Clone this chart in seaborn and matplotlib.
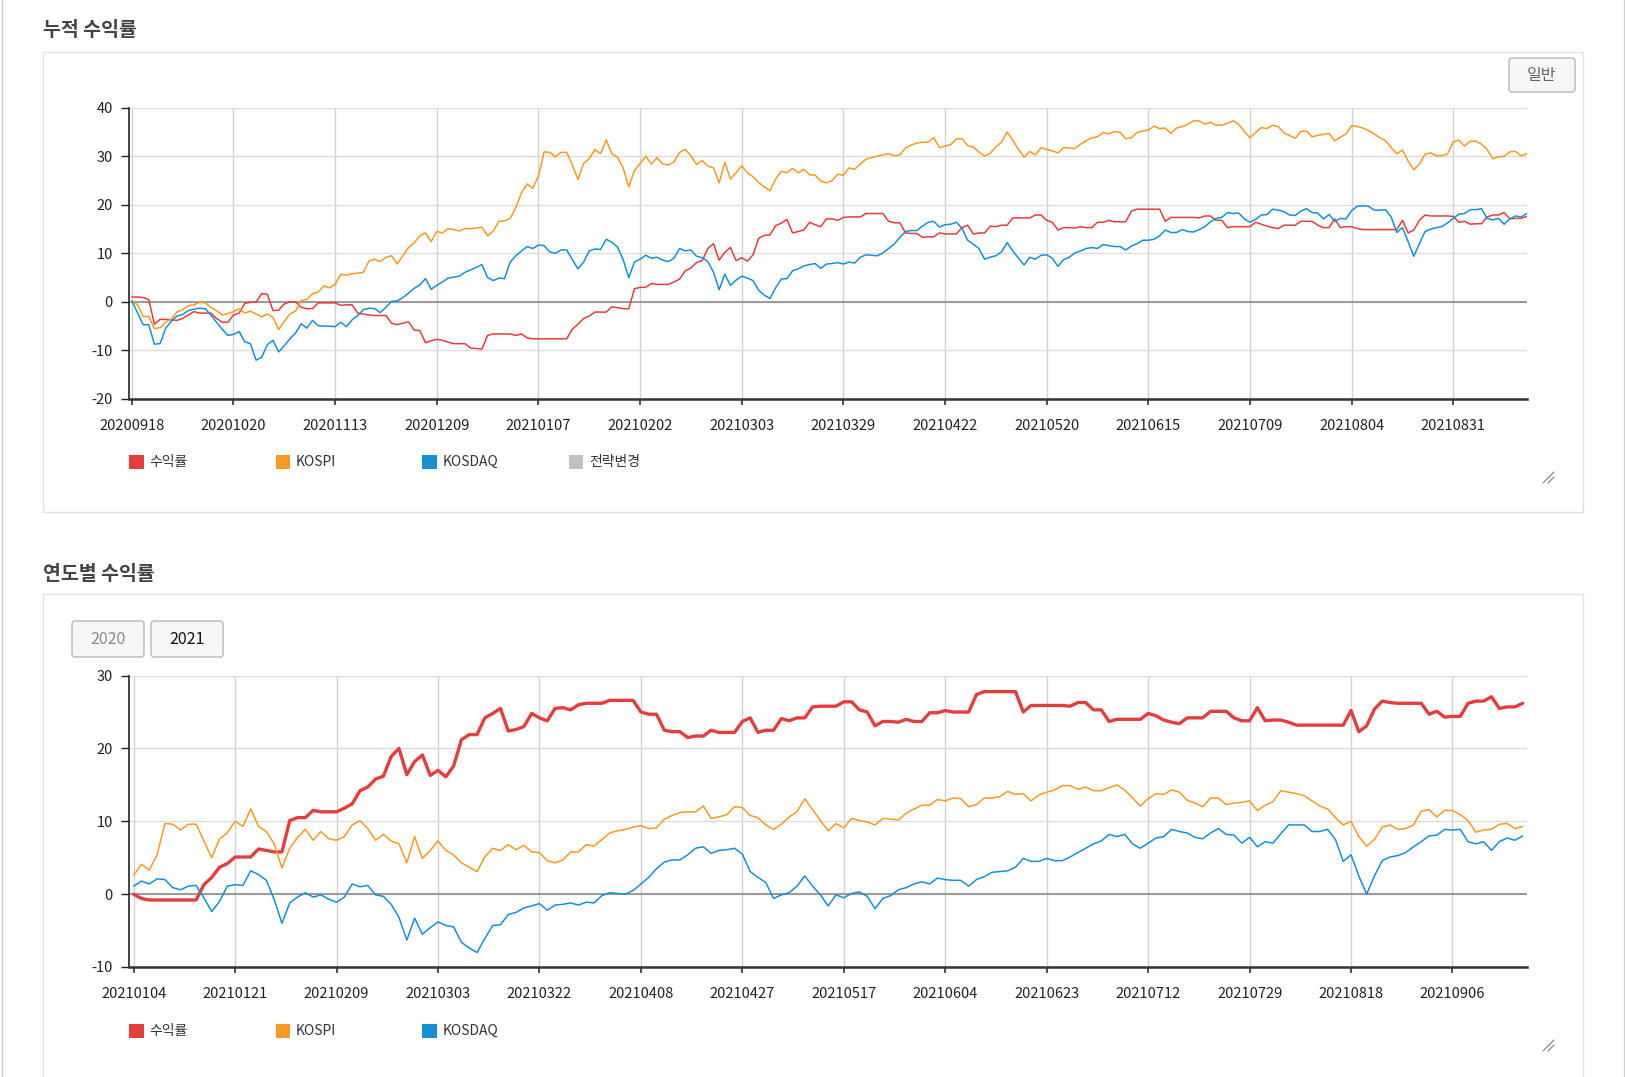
import numpy as np
import pandas as pd
import matplotlib
matplotlib.use("Agg")
import matplotlib.pyplot as plt
import seaborn as sns
from matplotlib.patches import Rectangle, FancyBboxPatch
from matplotlib.lines import Line2D
from matplotlib.transforms import IdentityTransform

# ---------------- data ----------------
series_names = ["수익률", "KOSPI", "KOSDAQ"]
legend1_names = ["수익률", "KOSPI", "KOSDAQ", "전략변경"]

# cumulative chart (20200918 ~ 2021-09)
cum_ret = [
    1.0, 1.0, 0.9, 0.5, -4.6, -3.6, -3.6, -3.7, -3.8, -3.4,
    -2.7, -2.0, -2.3, -2.3, -2.3, -3.4, -4.2, -4.2, -2.7, -2.3,
    -0.3, -0.1, 0.0, 1.7, 1.6, -1.8, -1.7, -0.4, 0.0, 0.0,
    -1.1, -1.4, -1.4, -0.2, -0.2, -0.2, -0.2, -0.7, -0.6, -0.6,
    -2.3, -2.5, -2.7, -2.8, -2.8, -2.8, -4.4, -4.7, -4.4, -4.1,
    -5.8, -5.9, -8.4, -8.0, -7.7, -7.9, -8.3, -8.6, -8.6, -8.6,
    -9.5, -9.6, -9.7, -6.9, -6.6, -6.6, -6.6, -6.6, -6.9, -6.6,
    -7.4, -7.6, -7.6, -7.6, -7.6, -7.6, -7.6, -7.6, -5.6, -4.6,
    -3.4, -2.9, -2.1, -2.1, -2.1, -1.0, -1.2, -1.4, -1.4, 2.7,
    3.0, 3.0, 3.8, 3.6, 3.6, 3.6, 4.1, 4.7, 6.4, 7.0,
    8.1, 8.5, 11.0, 12.0, 8.6, 10.2, 11.2, 8.5, 9.1, 8.4,
    9.7, 13.1, 13.7, 13.8, 15.7, 16.2, 17.0, 14.2, 14.5, 14.8,
    16.4, 15.9, 15.5, 17.1, 17.1, 16.8, 17.4, 17.5, 17.5, 17.5,
    18.2, 18.2, 18.2, 18.2, 16.6, 16.3, 16.3, 14.2, 14.1, 14.1,
    13.3, 13.4, 13.4, 14.2, 14.0, 14.0, 14.0, 15.3, 15.8, 14.0,
    14.2, 14.2, 15.6, 15.5, 15.8, 15.8, 17.3, 17.3, 17.3, 17.3,
    17.9, 17.9, 16.8, 16.4, 14.8, 15.3, 15.3, 15.2, 15.5, 15.3,
    15.3, 16.4, 16.4, 16.8, 16.5, 16.5, 16.5, 18.7, 19.1, 19.1,
    19.1, 19.1, 19.1, 16.6, 17.4, 17.4, 17.4, 17.4, 17.4, 17.3,
    17.7, 17.7, 16.8, 16.8, 15.3, 15.5, 15.5, 15.5, 15.5, 16.4,
    16.0, 15.6, 15.3, 15.1, 15.8, 15.8, 15.8, 16.6, 16.6, 16.6,
    15.8, 15.3, 15.3, 17.1, 15.3, 15.5, 15.5, 15.1, 14.9, 14.9,
    14.9, 14.9, 14.9, 14.9, 14.9, 16.8, 14.2, 14.8, 16.8, 17.9,
    17.7, 17.7, 17.7, 17.7, 17.6, 16.4, 16.6, 16.0, 16.1, 16.1,
    17.5, 17.9, 17.9, 18.4, 17.1, 17.2, 17.2, 17.6,
]
cum_kospi = [
    0.2, -0.6, -3.0, -3.0, -5.5, -5.3, -4.2, -3.5, -2.1, -1.6,
    -0.8, -0.6, -0.1, -0.2, -1.1, -1.8, -2.7, -2.4, -2.0, -1.4,
    -2.3, -1.9, -2.5, -3.1, -2.5, -3.2, -5.7, -4.0, -2.5, -1.9,
    0.3, 0.5, 1.7, 2.0, 3.3, 2.9, 3.6, 5.7, 5.5, 5.8,
    5.9, 6.1, 8.4, 8.8, 8.3, 9.2, 9.5, 7.8, 9.5, 11.2,
    12.2, 13.6, 14.2, 12.4, 14.5, 14.2, 15.1, 14.9, 14.6, 15.1,
    15.1, 15.2, 15.4, 13.6, 14.6, 16.6, 16.7, 17.2, 19.4, 22.5,
    24.3, 23.4, 25.9, 30.9, 30.8, 29.9, 30.8, 30.8, 28.2, 25.2,
    28.5, 29.5, 31.4, 30.5, 33.4, 30.5, 29.8, 27.6, 23.7, 27.1,
    28.5, 30.0, 28.4, 29.7, 28.4, 28.2, 28.8, 30.8, 31.4, 30.1,
    28.3, 29.1, 28.0, 27.6, 24.5, 28.8, 25.3, 26.6, 28.0, 26.6,
    25.8, 24.6, 23.7, 22.9, 25.3, 26.9, 26.6, 27.5, 26.6, 27.3,
    26.2, 26.1, 24.9, 24.5, 25.0, 26.3, 26.1, 27.6, 27.3, 28.4,
    29.4, 29.7, 30.0, 30.3, 30.5, 30.1, 30.3, 31.7, 32.3, 32.7,
    32.9, 32.9, 33.8, 31.8, 32.1, 32.4, 33.6, 33.6, 32.2, 31.9,
    30.9, 30.0, 30.6, 31.9, 32.9, 35.0, 33.3, 31.4, 29.8, 31.0,
    30.3, 31.8, 31.4, 31.1, 30.7, 31.8, 31.7, 31.6, 32.5, 33.2,
    33.8, 34.0, 34.9, 34.6, 35.1, 34.9, 33.6, 33.8, 34.9, 35.2,
    35.4, 36.2, 35.7, 35.8, 34.7, 35.8, 36.1, 36.6, 37.3, 37.3,
    36.6, 37.0, 36.4, 36.4, 36.8, 37.3, 36.6, 35.1, 33.8, 34.9,
    35.9, 35.7, 36.4, 36.1, 34.8, 34.3, 33.7, 35.1, 35.2, 34.0,
    34.3, 34.5, 34.7, 33.2, 33.9, 34.6, 36.3, 36.1, 35.8, 35.3,
    34.6, 33.8, 33.2, 31.8, 30.5, 31.3, 29.0, 27.2, 28.4, 30.4,
    30.7, 30.1, 30.1, 30.5, 33.0, 33.3, 32.1, 33.1, 33.1, 32.5,
    31.4, 29.5, 29.9, 30.0, 30.9, 31.0, 30.1, 30.5,
]
cum_kosdaq = [
    0.2, -2.2, -4.7, -4.7, -8.7, -8.6, -5.4, -4.0, -2.9, -2.6,
    -1.8, -1.5, -1.3, -1.4, -2.7, -4.2, -5.6, -6.9, -6.7, -6.1,
    -8.2, -8.6, -12.0, -11.4, -8.8, -7.9, -10.3, -9.0, -7.6, -6.4,
    -4.5, -5.4, -3.8, -4.9, -5.0, -5.0, -5.1, -4.2, -5.1, -3.7,
    -2.8, -1.6, -1.3, -1.4, -2.2, -1.1, 0.1, 0.2, 0.9, 1.8,
    2.8, 3.5, 4.8, 2.6, 3.4, 4.1, 4.9, 5.1, 5.3, 6.1,
    6.6, 7.1, 7.7, 5.0, 4.4, 4.9, 4.8, 8.2, 9.5, 10.5,
    11.4, 11.0, 11.7, 11.6, 10.3, 10.0, 10.7, 10.7, 8.7, 6.8,
    8.2, 10.5, 10.9, 10.8, 12.9, 12.3, 11.3, 8.7, 5.0, 8.2,
    8.8, 9.6, 9.0, 9.2, 8.6, 8.3, 9.0, 11.0, 10.5, 10.7,
    9.4, 9.1, 8.3, 6.1, 2.5, 5.7, 3.4, 4.5, 5.3, 4.9,
    4.4, 2.4, 1.4, 0.7, 2.9, 4.7, 4.8, 6.4, 6.8, 7.4,
    7.7, 7.9, 6.9, 7.8, 7.9, 8.1, 7.8, 8.2, 8.0, 9.2,
    9.7, 9.6, 9.5, 10.1, 11.0, 11.9, 13.3, 14.5, 14.7, 14.7,
    15.6, 16.4, 16.6, 15.4, 15.9, 16.0, 16.4, 15.2, 12.7, 11.9,
    11.0, 8.8, 9.2, 9.5, 10.3, 12.2, 10.5, 9.0, 7.6, 9.2,
    8.8, 9.6, 9.7, 9.0, 7.3, 8.7, 9.2, 10.1, 10.5, 11.0,
    11.2, 11.0, 11.8, 11.6, 11.4, 11.4, 10.7, 11.5, 12.0, 12.7,
    12.7, 12.9, 13.6, 14.8, 14.3, 14.3, 14.9, 14.5, 14.4, 14.9,
    15.5, 16.5, 17.2, 17.4, 18.4, 18.2, 18.3, 17.1, 16.4, 17.0,
    17.9, 18.0, 19.1, 18.9, 18.6, 17.9, 17.8, 18.7, 19.2, 18.4,
    18.3, 17.1, 18.0, 16.6, 17.2, 17.1, 18.8, 19.7, 19.8, 19.7,
    18.9, 18.9, 19.0, 17.5, 14.3, 15.3, 12.4, 9.4, 12.0, 14.5,
    15.0, 15.3, 15.5, 16.3, 17.2, 18.1, 18.2, 19.0, 19.0, 19.2,
    17.2, 16.9, 17.2, 16.0, 17.1, 17.7, 17.5, 18.2,
]
cum_tick_labels = ["20200918", "20201020", "20201113", "20201209", "20210107",
                   "20210202", "20210303", "20210329", "20210422", "20210520",
                   "20210615", "20210709", "20210804", "20210831"]
cum_tick_step = 18

# yearly chart (2021)
yr_ret = [
    0.0, -0.6, -0.8, -0.8, -0.8, -0.8, -0.8, -0.8, -0.8, 1.3,
    2.3, 3.7, 4.2, 5.1, 5.1, 5.1, 6.2, 6.0, 5.8, 5.8,
    10.1, 10.5, 10.5, 11.5, 11.3, 11.3, 11.3, 11.8, 12.4, 14.2,
    14.7, 15.8, 16.2, 18.9, 20.0, 16.4, 18.2, 19.1, 16.3, 17.0,
    16.1, 17.6, 21.2, 21.9, 21.9, 24.2, 24.8, 25.5, 22.4, 22.6,
    23.0, 24.8, 24.2, 23.8, 25.5, 25.6, 25.3, 26.0, 26.2, 26.2,
    26.2, 26.6, 26.6, 26.6, 26.6, 25.0, 24.7, 24.7, 22.5, 22.3,
    22.3, 21.5, 21.7, 21.7, 22.5, 22.2, 22.2, 22.2, 23.7, 24.2,
    22.2, 22.5, 22.5, 24.1, 23.8, 24.2, 24.2, 25.7, 25.8, 25.8,
    25.8, 26.4, 26.4, 25.3, 25.0, 23.1, 23.7, 23.7, 23.6, 24.0,
    23.7, 23.7, 24.9, 24.9, 25.2, 25.0, 25.0, 25.0, 27.4, 27.8,
    27.8, 27.8, 27.8, 27.8, 25.0, 25.9, 25.9, 25.9, 25.9, 25.9,
    25.8, 26.3, 26.3, 25.3, 25.3, 23.7, 24.0, 24.0, 24.0, 24.0,
    24.8, 24.5, 23.9, 23.6, 23.4, 24.2, 24.2, 24.2, 25.1, 25.1,
    25.1, 24.2, 23.8, 23.8, 25.6, 23.8, 23.9, 23.9, 23.6, 23.2,
    23.2, 23.2, 23.2, 23.2, 23.2, 23.2, 25.2, 22.3, 23.1, 25.4,
    26.5, 26.3, 26.2, 26.2, 26.2, 26.2, 24.7, 25.1, 24.3, 24.4,
    24.4, 26.2, 26.5, 26.5, 27.1, 25.5, 25.7, 25.7, 26.2,
]
yr_kospi = [
    2.6, 4.1, 3.3, 5.4, 9.7, 9.6, 8.8, 9.6, 9.6, 7.3,
    5.0, 7.6, 8.4, 10.0, 9.3, 11.7, 9.3, 8.6, 6.9, 3.6,
    6.3, 7.8, 8.9, 7.4, 8.6, 7.6, 7.4, 7.9, 9.5, 10.1,
    9.0, 7.4, 8.2, 7.3, 6.9, 4.3, 7.9, 4.9, 6.0, 7.3,
    6.0, 5.4, 4.3, 3.7, 3.1, 5.1, 6.3, 6.0, 6.8, 6.1,
    6.7, 5.8, 5.7, 4.6, 4.3, 4.7, 5.8, 5.8, 6.8, 6.6,
    7.5, 8.4, 8.7, 8.9, 9.2, 9.4, 9.0, 9.1, 10.3, 10.8,
    11.2, 11.3, 11.3, 12.1, 10.4, 10.6, 10.9, 12.0, 11.9, 10.8,
    10.5, 9.5, 8.9, 9.6, 10.6, 11.3, 13.1, 11.6, 10.1, 8.7,
    9.7, 9.1, 10.4, 10.1, 9.9, 9.5, 10.4, 10.3, 10.2, 11.1,
    11.7, 12.2, 12.2, 13.0, 12.8, 13.2, 13.1, 12.0, 12.3, 13.2,
    13.2, 13.4, 14.1, 13.7, 13.8, 12.8, 13.6, 14.0, 14.3, 14.9,
    14.9, 14.4, 14.7, 14.2, 14.2, 14.6, 15.0, 14.3, 13.2, 12.1,
    13.1, 13.8, 13.7, 14.3, 14.0, 12.9, 12.5, 12.0, 13.2, 13.2,
    12.3, 12.5, 12.6, 12.8, 11.5, 12.2, 12.7, 14.2, 14.0, 13.8,
    13.5, 12.8, 12.1, 11.7, 10.5, 9.5, 10.0, 7.9, 6.6, 7.5,
    9.2, 9.5, 8.9, 9.0, 9.5, 11.4, 11.6, 10.6, 11.5, 11.5,
    10.9, 10.1, 8.5, 8.8, 8.9, 9.6, 9.7, 9.0, 9.3,
]
yr_kosdaq = [
    1.1, 1.8, 1.4, 2.1, 2.0, 0.9, 0.6, 1.1, 1.2, -0.5,
    -2.4, -1.0, 1.1, 1.3, 1.2, 3.2, 2.7, 1.9, -0.7, -4.0,
    -1.2, -0.4, 0.2, -0.4, -0.1, -0.7, -1.1, -0.4, 1.4, 1.0,
    1.2, -0.1, -0.3, -1.4, -3.2, -6.3, -3.3, -5.5, -4.6, -3.8,
    -4.3, -4.5, -6.6, -7.4, -8.0, -6.1, -4.3, -4.2, -2.8, -2.5,
    -1.9, -1.6, -1.3, -2.2, -1.5, -1.4, -1.2, -1.5, -1.1, -1.2,
    -0.2, 0.2, 0.1, 0.0, 0.5, 1.4, 2.3, 3.5, 4.4, 4.7,
    4.7, 5.4, 6.3, 6.5, 5.6, 6.0, 6.1, 6.3, 5.5, 3.1,
    2.3, 1.6, -0.6, -0.1, 0.2, 1.1, 2.5, 1.1, -0.1, -1.6,
    -0.1, -0.5, 0.1, 0.3, -0.3, -2.0, -0.6, -0.2, 0.6, 0.9,
    1.4, 1.7, 1.4, 2.2, 2.0, 1.9, 1.9, 1.1, 2.0, 2.4,
    3.0, 3.1, 3.2, 3.7, 4.9, 4.5, 4.5, 4.9, 4.6, 4.6,
    5.1, 5.7, 6.3, 6.9, 7.3, 8.2, 7.9, 8.2, 6.9, 6.3,
    7.0, 7.7, 7.9, 8.9, 8.6, 8.4, 7.8, 7.6, 8.4, 9.0,
    8.2, 8.1, 7.0, 7.8, 6.5, 7.2, 7.0, 8.3, 9.5, 9.5,
    9.5, 8.6, 8.6, 8.9, 7.5, 4.5, 5.4, 2.5, 0.0, 2.5,
    4.6, 5.1, 5.3, 5.7, 6.5, 7.2, 8.0, 8.1, 8.9, 8.8,
    8.9, 7.2, 6.9, 7.2, 6.0, 7.2, 7.7, 7.4, 8.0,
]
yr_tick_labels = ["20210104", "20210121", "20210209", "20210303", "20210322",
                  "20210408", "20210427", "20210517", "20210604", "20210623",
                  "20210712", "20210729", "20210818", "20210906"]
yr_tick_step = 13

# ---------------- style ----------------
COL = {"수익률": "#e53d3d", "KOSPI": "#f59b25", "KOSDAQ": "#1591d3", "전략변경": "#c0c0c0"}

sns.set_theme(style="white")
plt.rcParams["font.family"] = ["Noto Sans CJK KR", "DejaVu Sans"]
plt.rcParams["axes.unicode_minus"] = False

W, H = 1625, 1077
fig = plt.figure(figsize=(W / 100, H / 100), dpi=100)
fig.patch.set_facecolor("white")
idt = IdentityTransform()


def fx(x):
    return x / W


def fy(y):
    return 1 - y / H


def rect_px(x0, y0, x1, y1, **kw):
    fig.add_artist(Rectangle((x0, H - y1), x1 - x0, y1 - y0, transform=idt, **kw))


def line_px(xs, ys, **kw):
    fig.add_artist(Line2D(xs, [H - y for y in ys], transform=idt, **kw))


def button(x0, y0, x1, y1, text, tcolor):
    fig.add_artist(FancyBboxPatch((x0, H - y1), x1 - x0, y1 - y0,
                                  boxstyle="round,pad=0,rounding_size=3",
                                  transform=idt, fc="#f7f7f7", ec="#b8b8b8", lw=1.0))
    fig.text(fx((x0 + x1) / 2), fy((y0 + y1) / 2), text, ha="center", va="center",
             fontsize=11.5, color=tcolor)


def resize_handle(x, y):
    line_px([x, x + 11], [y, y - 11], color="#8a8a8a", lw=0.9)
    line_px([x + 5, x + 11], [y, y - 6], color="#8a8a8a", lw=0.9)


# page frame lines
line_px([1.5, 1.5], [0, H], color="#cfcfcf", lw=1.0)
line_px([1623.5, 1623.5], [0, H], color="#cfcfcf", lw=1.0)

# panels
rect_px(43, 52, 1583, 512, fill=False, ec="#e2e2e2", lw=1.0)
rect_px(43, 594, 1583, 1100, fill=False, ec="#e2e2e2", lw=1.0)

# titles
fig.text(fx(43), fy(31), "누적 수익률", ha="left", va="center", fontsize=14,
         fontweight="bold", color="#444444")
fig.text(fx(43), fy(574), "연도별 수익률", ha="left", va="center", fontsize=14,
         fontweight="bold", color="#444444")

button(1509, 58, 1575, 92, "일반", "#666666")
button(72, 621, 144, 657, "2020", "#8a8a8a")
button(151, 621, 223, 657, "2021", "#111111")
resize_handle(1543, 483)
resize_handle(1543, 1051)


def make_long(values_by_series):
    frames = []
    for name, vals in values_by_series.items():
        frames.append(pd.DataFrame({"idx": np.arange(len(vals)), "value": vals, "series": name}))
    return pd.concat(frames, ignore_index=True)


def style_axes(ax, n, step, labels, ylim, yticks, xlim):
    ax.set_xlim(*xlim)
    ax.set_ylim(*ylim)
    ax.set_yticks(yticks)
    ax.set_xticks(np.arange(len(labels)) * step)
    ax.set_xticklabels(labels)
    ax.set_xlabel("")
    ax.set_ylabel("")
    ax.set_axisbelow(True)
    ax.yaxis.grid(True, color="#dcdcdc", lw=1.0)
    ax.xaxis.grid(True, color="#d2d2d2", lw=1.0)
    ax.axhline(0, color="#9a9a9a", lw=1.4, zorder=1.5)
    for s in ("top", "right"):
        ax.spines[s].set_visible(False)
    ax.spines["left"].set_color("#222222")
    ax.spines["left"].set_linewidth(1.2)
    ax.spines["bottom"].set_color("#333333")
    ax.spines["bottom"].set_linewidth(1.8)
    ax.tick_params(axis="y", left=True, direction="out", length=5.6, width=1.0,
                   color="#222222", pad=6, labelsize=10.5, labelcolor="#222222")
    ax.tick_params(axis="x", bottom=True, direction="out", length=4.5, width=1.2,
                   color="#333333", pad=10, labelsize=10.5, labelcolor="#222222")
    ax.set_facecolor("white")


def legend_row(names, yc):
    for i, name in enumerate(names):
        x0 = 129 + i * 146.6
        rect_px(x0, yc - 7.3, x0 + 14.6, yc + 7.3, fc=COL[name], ec="none")
        fig.text(fx(x0 + 20), fy(yc), name, ha="left", va="center", fontsize=10,
                 color="#333333")


# ---- chart 1 ----
ax1 = fig.add_axes([129 / W, 1 - 399 / H, (1527 - 129) / W, (399 - 107.7) / H])
df1 = make_long({"수익률": cum_ret, "KOSPI": cum_kospi, "KOSDAQ": cum_kosdaq})
sns.lineplot(data=df1, x="idx", y="value", hue="series", hue_order=series_names,
             palette=COL, estimator=None, sort=False, legend=False, ax=ax1, lw=1.1)
style_axes(ax1, len(cum_ret), cum_tick_step, cum_tick_labels, (-20, 40),
           np.arange(-20, 41, 10), (-0.5, len(cum_ret) - 0.95))
legend_row(legend1_names, 462)

# ---- chart 2 ----
ax2 = fig.add_axes([129 / W, 1 - 967 / H, (1527 - 129) / W, (967 - 675.6) / H])
df2 = make_long({"수익률": yr_ret, "KOSPI": yr_kospi, "KOSDAQ": yr_kosdaq})
sns.lineplot(data=df2, x="idx", y="value", hue="series", hue_order=series_names,
             palette=COL, size="series", size_order=series_names,
             sizes={"수익률": 2.4, "KOSPI": 1.1, "KOSDAQ": 1.1},
             estimator=None, sort=False, legend=False, ax=ax2)
style_axes(ax2, len(yr_ret), yr_tick_step, yr_tick_labels, (-10, 30),
           np.arange(-10, 31, 10), (-0.6, len(yr_ret) - 0.45))
legend_row(series_names, 1031)

fig.savefig("out.png", dpi=100)
